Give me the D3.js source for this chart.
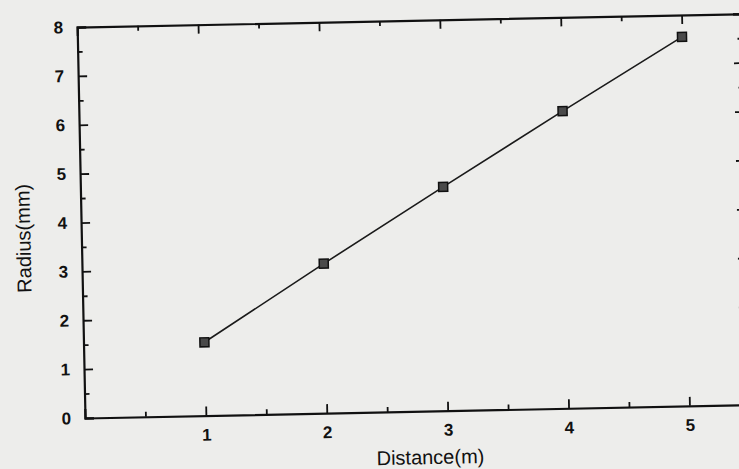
<!DOCTYPE html>
<html>
<head>
<meta charset="utf-8">
<script src="https://cdn.jsdelivr.net/npm/d3@7"></script>
<style>
  html, body { margin: 0; padding: 0; background: #ededeb; }
  svg { display: block; }
  text { font-family: "Liberation Sans", Arial, sans-serif; fill: #111; }
</style>
</head>
<body>
<svg id="chart" width="739" height="469"></svg>
<script>
const distance = [1, 2, 3, 4, 5];
const radius = [1.5, 3.06, 4.58, 6.08, 7.55];
const xTicks = [1, 2, 3, 4, 5];
const yTicks = [0, 1, 2, 3, 4, 5, 6, 7, 8];
const xTitle = "Distance(m)";
const yTitle = "Radius(mm)";

const svg = d3.select("#chart");
const W = 739, H = 469;
const originX = 85, originY = 418;
const plotW = 665, plotH = 391;

svg.append("rect").attr("width", W).attr("height", H).attr("fill", "#ededeb");

const g = svg.append("g")
  .attr("transform", `translate(${originX},${originY}) rotate(-1.15) translate(0,${-plotH})`);

const x = d3.scaleLinear().domain([0, 5.5]).range([0, plotW]);
const y = d3.scaleLinear().domain([0, 8]).range([plotH, 0]);

const minorX = d3.range(0.5, 5.5, 1);
const minorY = d3.range(0.5, 8, 1);

function styleAxis(sel) {
  sel.selectAll("path").attr("stroke", "#111").attr("stroke-width", 2.2);
  sel.selectAll("line").attr("stroke", "#111").attr("stroke-width", 1.8);
}

// bottom axis major with labels
const xAxis = g.append("g").attr("transform", `translate(0,${plotH})`)
  .call(d3.axisBottom(x).tickValues(xTicks).tickSize(-9).tickPadding(13).tickFormat(d3.format("d")));
styleAxis(xAxis);
xAxis.selectAll("text").style("font-size", "17px").style("font-weight", "bold");
g.append("g").attr("transform", `translate(0,${plotH})`)
  .call(d3.axisBottom(x).tickValues(minorX).tickSize(-5).tickFormat(""))
  .call(styleAxis).select("path").remove();

// top axis
const xTop = g.append("g")
  .call(d3.axisTop(x).tickValues(xTicks).tickSize(-9).tickFormat(""));
styleAxis(xTop);
g.append("g").call(d3.axisTop(x).tickValues(minorX).tickSize(-5).tickFormat(""))
  .call(styleAxis).select("path").remove();

// left axis
const yAxis = g.append("g")
  .call(d3.axisLeft(y).tickValues(yTicks).tickSize(-9).tickPadding(14).tickFormat(d3.format("d")));
styleAxis(yAxis);
yAxis.selectAll("text").style("font-size", "17px").style("font-weight", "bold");
g.append("g").call(d3.axisLeft(y).tickValues(minorY).tickSize(-5).tickFormat(""))
  .call(styleAxis).select("path").remove();

// right axis
const yRight = g.append("g").attr("transform", `translate(${plotW},0)`)
  .call(d3.axisRight(y).tickValues(yTicks).tickSize(-9).tickFormat(""));
styleAxis(yRight);
g.append("g").attr("transform", `translate(${plotW},0)`)
  .call(d3.axisRight(y).tickValues(minorY).tickSize(-5).tickFormat(""))
  .call(styleAxis).select("path").remove();

// line
const data = distance.map((d, i) => ({ x: d, y: radius[i] }));
g.append("path").datum(data)
  .attr("fill", "none").attr("stroke", "#1a1a1a").attr("stroke-width", 1.6)
  .attr("d", d3.line().x(d => x(d.x)).y(d => y(d.y)));

// markers
const ms = 9;
g.selectAll("rect.pt").data(data).enter().append("rect")
  .attr("class", "pt")
  .attr("x", d => x(d.x) - ms / 2).attr("y", d => y(d.y) - ms / 2)
  .attr("width", ms).attr("height", ms)
  .attr("fill", "#4a4a4a").attr("stroke", "#111").attr("stroke-width", 1.5);

// axis titles
g.append("text")
  .attr("x", x(2.85)).attr("y", plotH + 53)
  .attr("text-anchor", "middle").style("font-size", "20px")
  .text(xTitle);

g.append("text")
  .attr("transform", `translate(-51,${y(3.7)}) rotate(-90)`)
  .attr("text-anchor", "middle").style("font-size", "20px")
  .text(yTitle);
</script>
</body>
</html>
